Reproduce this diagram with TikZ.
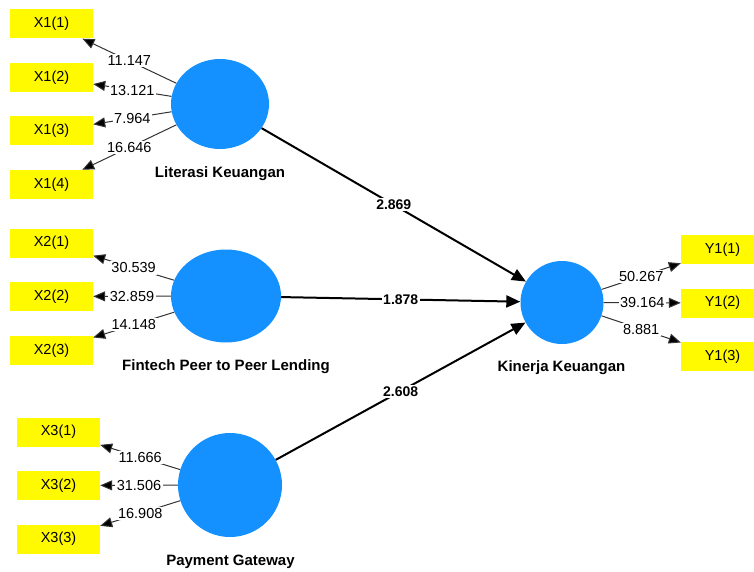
\documentclass[tikz,border=0pt]{standalone}
\usepackage{fontspec}
\setmainfont{Liberation Sans}
\usetikzlibrary{shapes.geometric,arrows.meta}
\definecolor{lvblue}{RGB}{20,145,255}
\definecolor{mvyellow}{RGB}{255,250,0}
\tikzset{
  indicator/.style={
    fill=mvyellow,
    minimum width=83pt,
    minimum height=29pt,
    inner sep=0pt,
    font=\fontsize{14.5pt}{16pt}\selectfont
  },
  latent/.style={
    shape=ellipse,
    fill=lvblue,
    inner sep=0pt
  },
  lvname/.style={
    font=\bfseries\fontsize{15pt}{17pt}\selectfont
  },
  loading/.style={
    draw=black!80,
    line width=1pt,
    -{Triangle[length=12pt,width=10pt,fill=black]}
  },
  loadval/.style={
    fill=white,
    inner sep=1.5pt,
    font=\fontsize{14.5pt}{16pt}\selectfont
  },
  pathcoef/.style={
    draw=black,
    line width=2pt,
    -{Triangle[length=14pt,width=12pt]}
  },
  pathval/.style={
    fill=white,
    inner sep=1.5pt,
    font=\bfseries\fontsize{14pt}{16pt}\selectfont
  }
}

\begin{document}
\begin{tikzpicture}[x=1pt,y=-1pt]
    \useasboundingbox (0,0) rectangle (754,572);
    % latent variables
    \node[latent,minimum width=98pt,minimum height=90pt] (LK) at (220,104) {};
    \node[latent,minimum width=110pt,minimum height=93pt] (FP) at (226,296) {};
    \node[latent,minimum width=104pt,minimum height=104pt] (PG) at (230,485) {};
    \node[latent,minimum width=83pt,minimum height=83pt] (KK) at (562,302.5) {};
    \node[lvname] (LKlab) at (220,173.5) {Literasi Keuangan};
    \node[lvname] (FPlab) at (226,367) {Fintech Peer to Peer Lending};
    \node[lvname] (PGlab) at (230.5,562) {Payment Gateway};
    \node[lvname] (KKlab) at (561.5,368) {Kinerja Keuangan};
    % indicators
    \foreach \i/\y in {1/24,2/77.5,3/131,4/184.5}
        \node[indicator] (x1\i) at (51.5,\y) {X1(\i)};
    \foreach \i/\y in {1/243,2/296.5,3/350.5}
        \node[indicator] (x2\i) at (51.5,\y) {X2(\i)};
    \foreach \i/\y in {1/432,2/485.5,3/539}
        \node[indicator] (x3\i) at (58.5,\y) {X3(\i)};
    \foreach \i/\y in {1/249.5,2/303,3/356.5}
        \node[indicator] (y1\i) at (722.5,\y) {Y1(\i)};
    % outer loadings
    \foreach \i/\v in {1/11.147,2/13.121,3/7.964,4/16.646}
        \draw[loading] (LK) -- node[loadval] {\v} (x1\i);
    \foreach \i/\v in {1/30.539,2/32.859,3/14.148}
        \draw[loading] (FP) -- node[loadval] {\v} (x2\i);
    \foreach \i/\v in {1/11.666,2/31.506,3/16.908}
        \draw[loading] (PG) -- node[loadval] {\v} (x3\i);
    \foreach \i/\v in {1/50.267,2/39.164,3/8.881}
        \draw[loading] (KK) -- node[loadval] {\v} (y1\i);
    % inner model
    \draw[pathcoef] (LK) -- node[pathval] {2.869} (KK);
    \draw[pathcoef] (FP) -- node[pathval] {1.878} (KK);
    \draw[pathcoef] (PG) -- node[pathval] {2.608} (KK);
\end{tikzpicture}
\end{document}
